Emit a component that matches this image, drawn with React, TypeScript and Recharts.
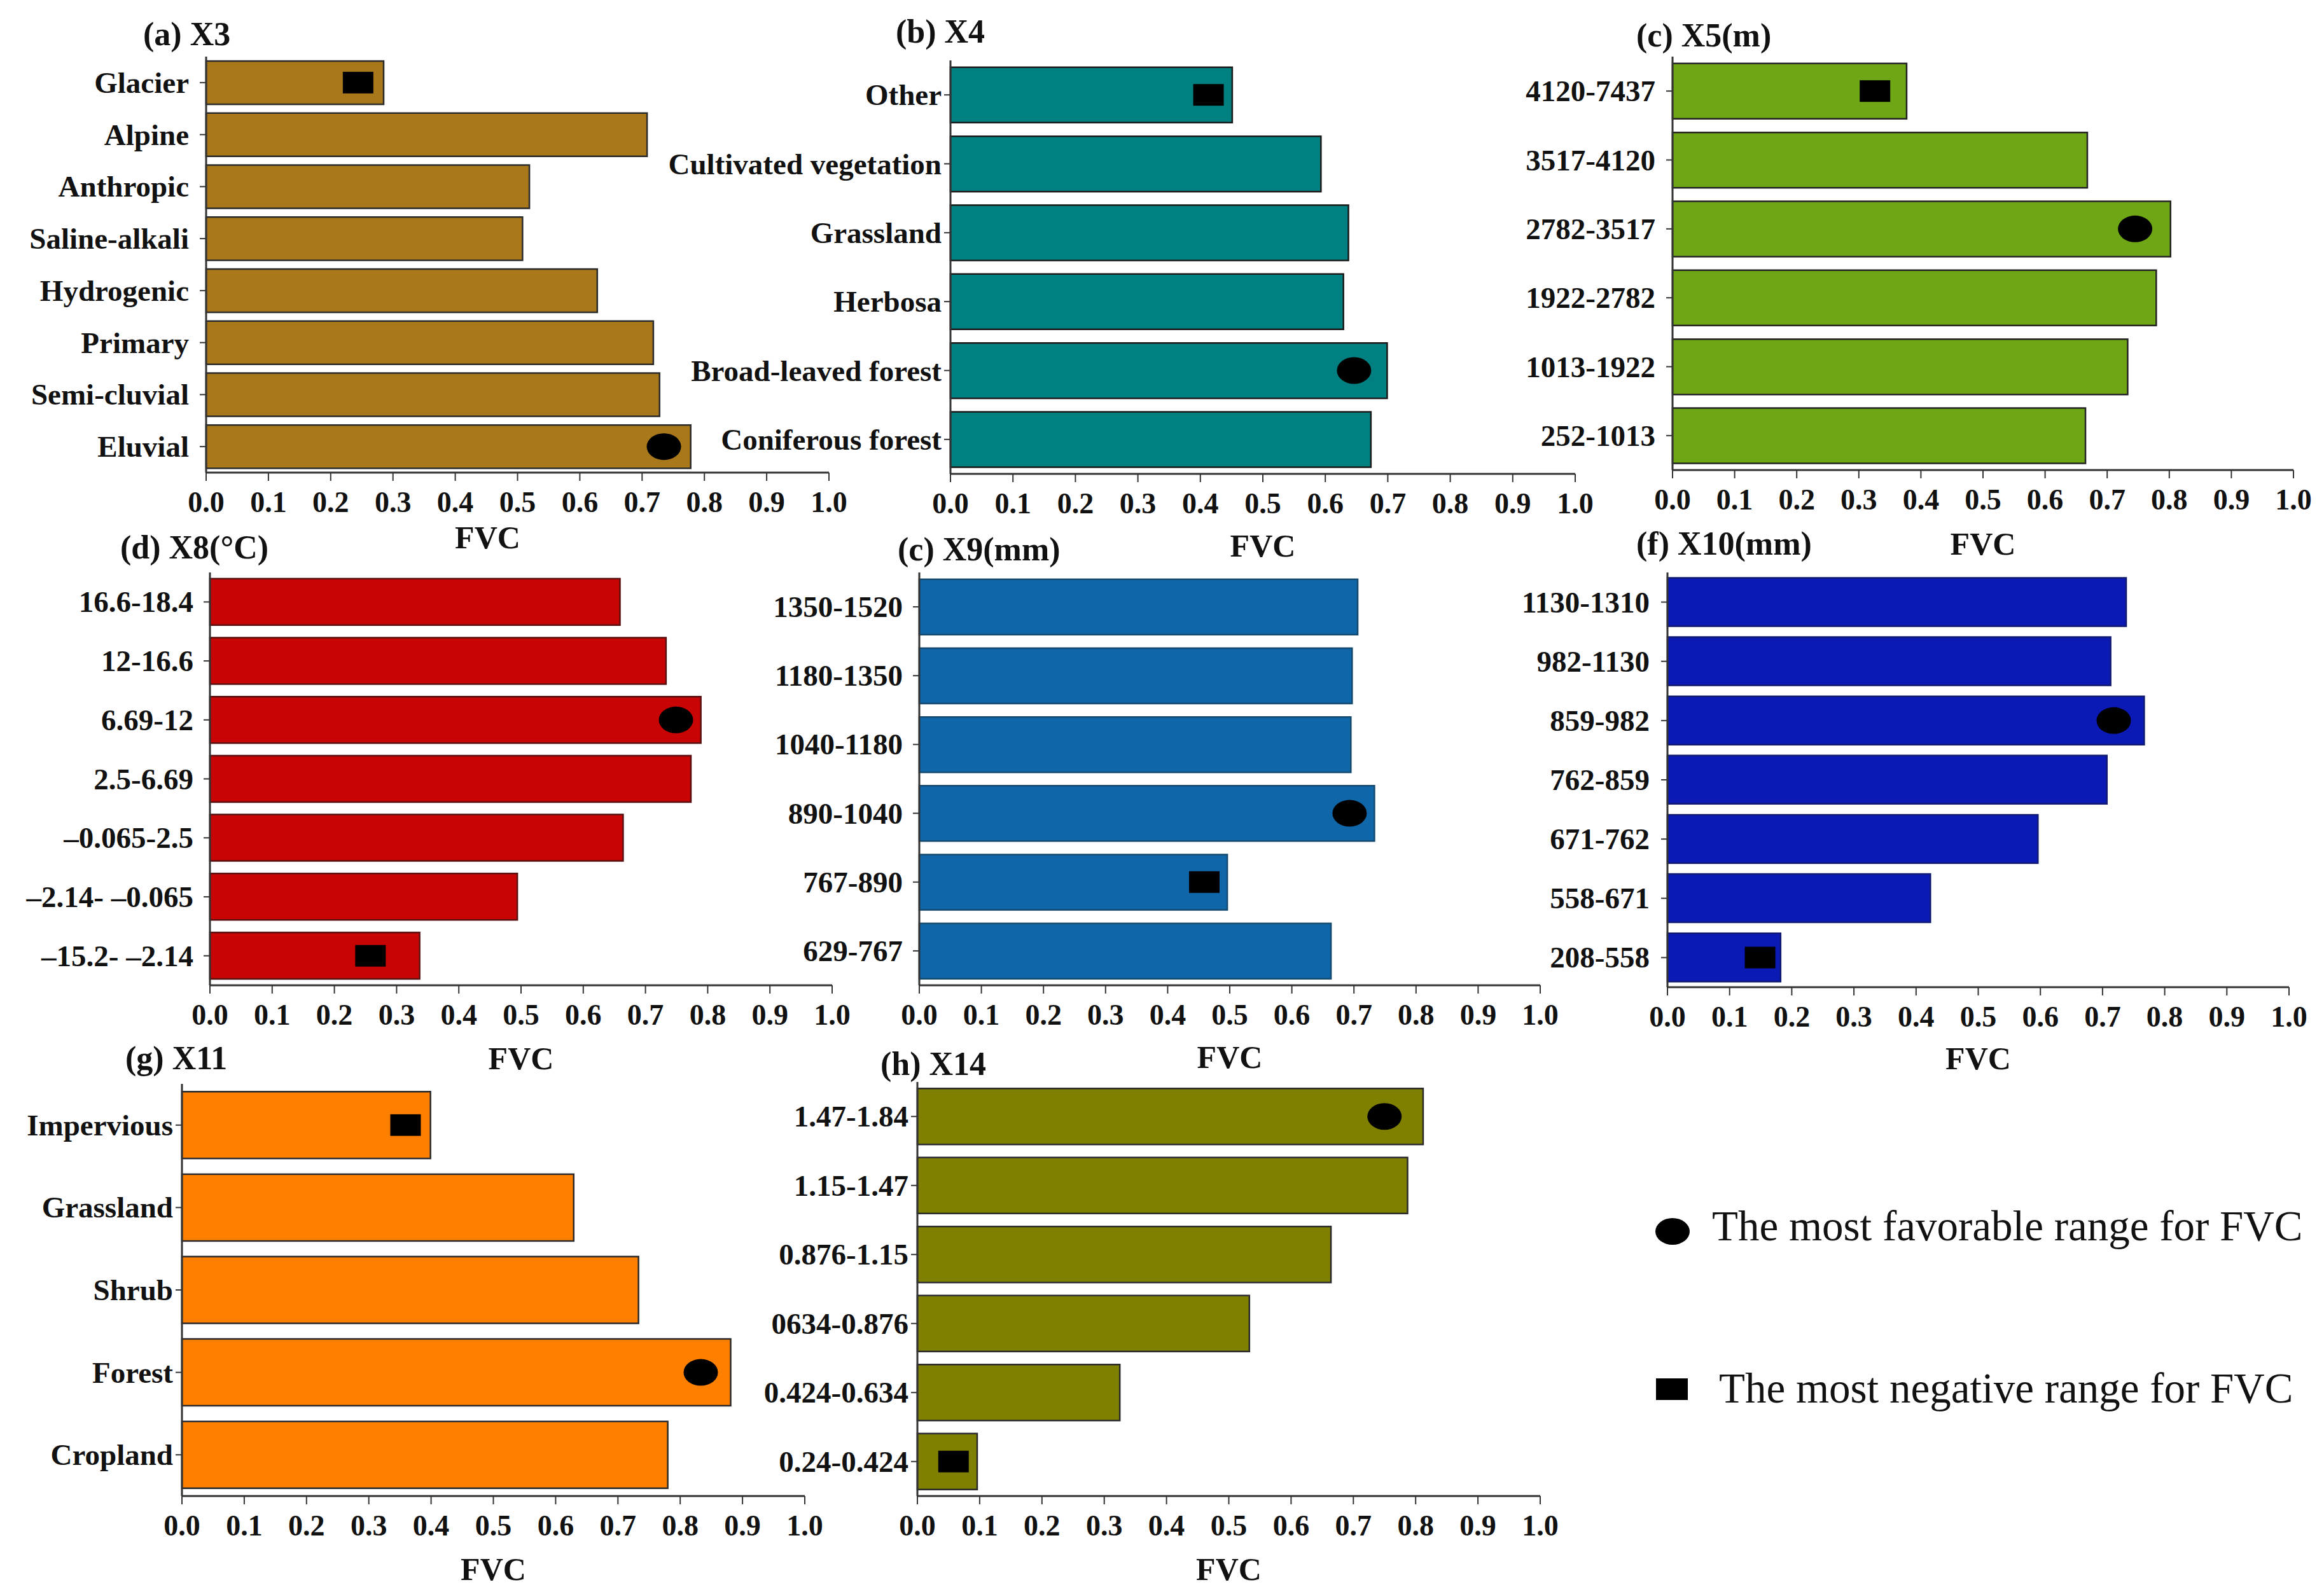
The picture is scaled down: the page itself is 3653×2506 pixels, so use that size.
import React from "react";
import { ComposedChart, Bar, Scatter, XAxis, YAxis } from "recharts";

const FONT = "'Liberation Serif', 'Times New Roman', serif";

const fvcTicks = [0, 0.1, 0.2, 0.3, 0.4, 0.5, 0.6, 0.7, 0.8, 0.9, 1.0];

// (a) X3
const x3Cats = ["Glacier", "Alpine", "Anthropic", "Saline-alkali", "Hydrogenic", "Primary", "Semi-cluvial", "Eluvial"];
const x3Fvc = [0.285, 0.708, 0.519, 0.508, 0.628, 0.718, 0.728, 0.778];
const x3Best = { name: "Eluvial", fvc: 0.735 };
const x3Worst = { name: "Glacier", fvc: 0.244 };

// (b) X4
const x4Cats = ["Other", "Cultivated vegetation", "Grassland", "Herbosa", "Broad-leaved forest", "Coniferous forest"];
const x4Fvc = [0.451, 0.593, 0.637, 0.629, 0.699, 0.673];
const x4Best = { name: "Broad-leaved forest", fvc: 0.646 };
const x4Worst = { name: "Other", fvc: 0.413 };

// (c) X5 (m)
const x5Cats = ["4120-7437", "3517-4120", "2782-3517", "1922-2782", "1013-1922", "252-1013"];
const x5Fvc = [0.377, 0.668, 0.802, 0.779, 0.733, 0.665];
const x5Best = { name: "2782-3517", fvc: 0.745 };
const x5Worst = { name: "4120-7437", fvc: 0.326 };

// (d) X8 (°C)
const x8Cats = ["16.6-18.4", "12-16.6", "6.69-12", "2.5-6.69", "\u20130.065-2.5", "\u20132.14- \u20130.065", "\u201315.2- \u20132.14"];
const x8Fvc = [0.659, 0.733, 0.789, 0.773, 0.664, 0.494, 0.337];
const x8Best = { name: "6.69-12", fvc: 0.749 };
const x8Worst = { name: "\u201315.2- \u20132.14", fvc: 0.258 };

// (e) X9 (mm)
const x9Cats = ["1350-1520", "1180-1350", "1040-1180", "890-1040", "767-890", "629-767"];
const x9Fvc = [0.706, 0.697, 0.695, 0.733, 0.496, 0.663];
const x9Best = { name: "890-1040", fvc: 0.693 };
const x9Worst = { name: "767-890", fvc: 0.459 };

// (f) X10 (mm)
const x10Cats = ["1130-1310", "982-1130", "859-982", "762-859", "671-762", "558-671", "208-558"];
const x10Fvc = [0.738, 0.713, 0.767, 0.707, 0.596, 0.423, 0.182];
const x10Best = { name: "859-982", fvc: 0.718 };
const x10Worst = { name: "208-558", fvc: 0.149 };

// (g) X11
const x11Cats = ["Impervious", "Grassland", "Shrub", "Forest", "Cropland"];
const x11Fvc = [0.399, 0.629, 0.733, 0.881, 0.78];
const x11Best = { name: "Forest", fvc: 0.833 };
const x11Worst = { name: "Impervious", fvc: 0.359 };

// (h) X14
const x14Cats = ["1.47-1.84", "1.15-1.47", "0.876-1.15", "0634-0.876", "0.424-0.634", "0.24-0.424"];
const x14Fvc = [0.812, 0.787, 0.664, 0.533, 0.325, 0.096];
const x14Best = { name: "1.47-1.84", fvc: 0.75 };
const x14Worst = { name: "0.24-0.424", fvc: 0.058 };

// barCategoryGap is applied on each side of the bar
const panels = [
  { title: "(a) X3", cats: x3Cats, values: x3Fvc, best: x3Best, worst: x3Worst, color: "#A8781A", stroke: "#2a2a2a",
    left: 0, top: 0, x0: 324, x1: 1303, yTop: 89, yBot: 743, gap: "8.5%", yMargin: 17, tx: 225, ty: 53, fdx: -47, fdy: 102 },
  { title: "(b) X4", cats: x4Cats, values: x4Fvc, best: x4Best, worst: x4Worst, color: "#008080", stroke: "#1a1a1a",
    left: 1000, top: 0, x0: 1494, x1: 2476, yTop: 95, yBot: 745, gap: "10%", yMargin: 4, tx: 1408, ty: 49, fdx: 0, fdy: 113 },
  { title: "(c) X5(m)", cats: x5Cats, values: x5Fvc, best: x5Best, worst: x5Worst, color: "#6FA616", stroke: "#222",
    left: 2300, top: 0, x0: 2629, x1: 3605, yTop: 89, yBot: 739, gap: "10%", yMargin: 17, tx: 2572, ty: 55, fdx: 0, fdy: 116 },
  { title: "(d) X8(\u00B0C)", cats: x8Cats, values: x8Fvc, best: x8Best, worst: x8Worst, color: "#C80404", stroke: "#5a1010",
    left: 0, top: 800, x0: 330, x1: 1308, yTop: 900, yBot: 1549, gap: "10.5%", yMargin: 16, tx: 189, ty: 860, fdx: 0, fdy: 115 },
  { title: "(c) X9(mm)", cats: x9Cats, values: x9Fvc, best: x9Best, worst: x9Worst, color: "#0F67AA", stroke: "#154a70",
    left: 1150, top: 800, x0: 1445, x1: 2421, yTop: 900, yBot: 1549, gap: "10%", yMargin: 16, tx: 1411, ty: 863, fdx: 0, fdy: 113 },
  { title: "(f) X10(mm)", cats: x10Cats, values: x10Fvc, best: x10Best, worst: x10Worst, color: "#0B19B5", stroke: "#101a70",
    left: 2330, top: 800, x0: 2621, x1: 3598, yTop: 900, yBot: 1552, gap: "9%", yMargin: 18, tx: 2572, ty: 854, fdx: 0, fdy: 112 },
  { title: "(g) X11", cats: x11Cats, values: x11Fvc, best: x11Best, worst: x11Worst, color: "#FF8000", stroke: "#2a2a2a",
    left: 0, top: 1600, x0: 286, x1: 1265, yTop: 1704, yBot: 2352, gap: "9.5%", yMargin: 4, tx: 197, ty: 1663, fdx: 0, fdy: 115 },
  { title: "(h) X14", cats: x14Cats, values: x14Fvc, best: x14Best, worst: x14Worst, color: "#808000", stroke: "#2a2a2a",
    left: 1150, top: 1600, x0: 1442, x1: 2421, yTop: 1701, yBot: 2352, gap: "9.5%", yMargin: 4, tx: 1384, ty: 1672, fdx: 0, fdy: 115 },
];

function Favorable(props: any) {
  const { cx, cy, payload } = props;
  if (!payload || payload.best == null || !Number.isFinite(cx) || !Number.isFinite(cy)) return <g />;
  return <ellipse cx={cx} cy={cy} rx={27} ry={21} fill="#000" />;
}

function Negative(props: any) {
  const { cx, cy, payload } = props;
  if (!payload || payload.worst == null || !Number.isFinite(cx) || !Number.isFinite(cy)) return <g />;
  return <rect x={cx - 24} y={cy - 17} width={48} height={34} fill="#000" />;
}

function CatTick(props: any) {
  const { x, y, payload } = props;
  return (
    <text x={x} y={y} textAnchor="end" dominantBaseline="central" fontFamily={FONT} fontWeight="bold" fontSize={47} fill="#111">
      {payload.value}
    </text>
  );
}

function Panel({ p }: { p: any }) {
  const data = p.cats.map((name: string, i: number) => ({
    name,
    fvc: p.values[i],
    best: name === p.best.name ? p.best.fvc : null,
    worst: name === p.worst.name ? p.worst.fvc : null,
  }));
  const right = 50;
  const width = p.x1 - p.left + right;
  const height = p.yBot - p.top + 160;
  const fvcX = (p.x0 + p.x1) / 2 - p.left + p.fdx;
  const fvcY = p.yBot - p.top + p.fdy;

  return (
    <div style={{ position: "absolute", left: p.left, top: p.top }}>
      <ComposedChart
        width={width}
        height={height}
        data={data}
        layout="vertical"
        margin={{ top: p.yTop - p.top, right, bottom: 0, left: 0 }}
        barCategoryGap={p.gap}
      >
        <XAxis
          type="number"
          domain={[0, 1]}
          ticks={fvcTicks}
          interval={0}
          height={160}
          tickSize={13}
          tickMargin={16}
          tickFormatter={(v: number) => v.toFixed(1)}
          tick={{ fill: "#111", fontSize: 46, fontWeight: "bold", fontFamily: FONT }}
          axisLine={{ stroke: "#333", strokeWidth: 3 }}
          tickLine={{ stroke: "#333", strokeWidth: 2 }}
          label={() => (
            <text x={fvcX} y={fvcY} textAnchor="middle" dominantBaseline="central" fontFamily={FONT} fontWeight="bold" fontSize={50} fill="#111">
              FVC
            </text>
          )}
        />
        <YAxis
          type="category"
          dataKey="name"
          width={p.x0 - p.left}
          interval={0}
          tickSize={10}
          tickMargin={p.yMargin}
          tick={<CatTick />}
          axisLine={{ stroke: "#333", strokeWidth: 3 }}
          tickLine={{ stroke: "#333", strokeWidth: 2 }}
          label={() => (
            <text x={p.tx - p.left} y={p.ty - p.top} textAnchor="start" dominantBaseline="central" fontFamily={FONT} fontWeight="bold" fontSize={52} fill="#111">
              {p.title}
            </text>
          )}
        />
        <Bar dataKey="fvc" fill={p.color} stroke={p.stroke} strokeWidth={2.5} isAnimationActive={false} />
        <Scatter dataKey="best" shape={Favorable} isAnimationActive={false} />
        <Scatter dataKey="worst" shape={Negative} isAnimationActive={false} />
      </ComposedChart>
    </div>
  );
}

function MarkerLegend() {
  return (
    <svg style={{ position: "absolute", left: 2550, top: 1850 }} width={1100} height={400}>
      <ellipse cx={79} cy={86} rx={27} ry={21} fill="#000" />
      <text x={141} y={100} fontFamily={FONT} fontSize={67} fill="#111">
        The most favorable range for FVC
      </text>
      <rect x={53} y={317} width={50} height={34} fill="#000" />
      <text x={152} y={355} fontFamily={FONT} fontSize={67} fill="#111">
        The most negative range for FVC
      </text>
    </svg>
  );
}

export default function App() {
  return (
    <div style={{ position: "absolute", left: 0, top: 0, width: 3653, height: 2506, background: "#fff", overflow: "hidden" }}>
      {panels.map((p) => (
        <Panel key={p.title + p.left} p={p} />
      ))}
      <MarkerLegend />
    </div>
  );
}
